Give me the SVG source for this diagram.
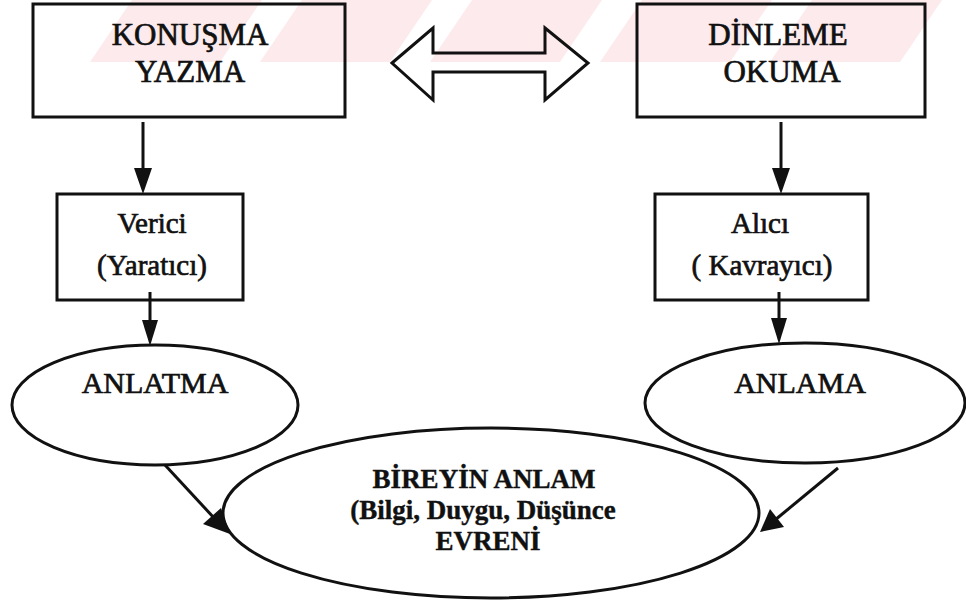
<svg xmlns="http://www.w3.org/2000/svg" width="966" height="605" viewBox="0 0 966 605">
<style>
.box{fill:none;stroke:#111;stroke-width:3}
.ell{fill:none;stroke:#111;stroke-width:3}
.t{font-family:"Liberation Serif","Times New Roman",serif;fill:#111;text-anchor:middle;stroke:#111;stroke-width:0.7}
.tb{font-family:"Liberation Serif","Times New Roman",serif;fill:#111;text-anchor:middle;font-weight:bold;stroke:#111;stroke-width:0.4}
.wm{fill:#fdeaed}
.con{stroke:#111;stroke-width:3;fill:none}
.head{fill:#111}
</style>
<rect width="966" height="605" fill="#fff"/>
<g id="watermark">
<polygon class="wm" points="90,62 220,62 262,0 132,0"/>
<polygon class="wm" points="260,62 390,62 432,0 302,0"/>
<polygon class="wm" points="430,62 560,62 602,0 472,0"/>
<polygon class="wm" points="600,62 730,62 772,0 642,0"/>
<polygon class="wm" points="770,62 900,62 942,0 812,0"/>
</g>
<g id="konusma">
<rect class="box" x="33" y="4" width="312" height="113"/>
<text class="t" x="190" y="45" font-size="31">KONUŞMA</text>
<text class="t" x="190" y="82" font-size="31">YAZMA</text>
</g>
<g id="dinleme">
<rect class="box" x="637" y="4" width="288" height="113"/>
<text class="t" x="778" y="45" font-size="31">DİNLEME</text>
<text class="t" x="782" y="82" font-size="31">OKUMA</text>
</g>
<g id="ciftyon">
<polygon class="box" points="392,63 433,28 433,53 545,53 545,28 588,63 545,100 545,72 433,72 433,100"/>
</g>
<g id="verici">
<rect class="box" x="57" y="194" width="186" height="106"/>
<text class="t" x="152" y="233" font-size="29">Verici</text>
<text class="t" x="152" y="275" font-size="29">(Yaratıcı)</text>
</g>
<g id="alici">
<rect class="box" x="655" y="194" width="213" height="106"/>
<text class="t" x="760" y="233" font-size="29">Alıcı</text>
<text class="t" x="762" y="275" font-size="29">( Kavrayıcı)</text>
</g>
<g id="anlatma">
<ellipse class="ell" cx="155" cy="405" rx="143" ry="60"/>
<text class="t" x="155" y="393" font-size="30">ANLATMA</text>
</g>
<g id="anlama">
<ellipse class="ell" cx="805" cy="403" rx="160" ry="60"/>
<text class="t" x="800" y="393" font-size="30">ANLAMA</text>
</g>
<g id="bireyin">
<ellipse class="ell" cx="491" cy="513" rx="268" ry="85"/>
<text class="tb" x="484" y="488" font-size="27">BİREYİN ANLAM</text>
<text class="tb" x="483" y="519" font-size="27">(Bilgi, Duygu, Düşünce</text>
<text class="tb" x="488" y="550" font-size="27">EVRENİ</text>
</g>
<g id="connectors">
<line class="con" x1="143" y1="122" x2="143" y2="170"/>
<polygon class="head" points="134,168 152,168 143,194"/>
<line class="con" x1="781" y1="122" x2="781" y2="170"/>
<polygon class="head" points="772,168 790,168 781,194"/>
<line class="con" x1="150" y1="292" x2="150" y2="322"/>
<polygon class="head" points="142,320 158,320 150,346"/>
<line class="con" x1="779" y1="292" x2="779" y2="320"/>
<polygon class="head" points="771,318 787,318 779,344"/>
<line class="con" x1="165" y1="465" x2="215" y2="519"/>
<polygon class="head" points="203,524 221,508 230,534"/>
<line class="con" x1="838" y1="468" x2="775" y2="520"/>
<polygon class="head" points="770,509 784,527 760,532"/>
</g>
</svg>
